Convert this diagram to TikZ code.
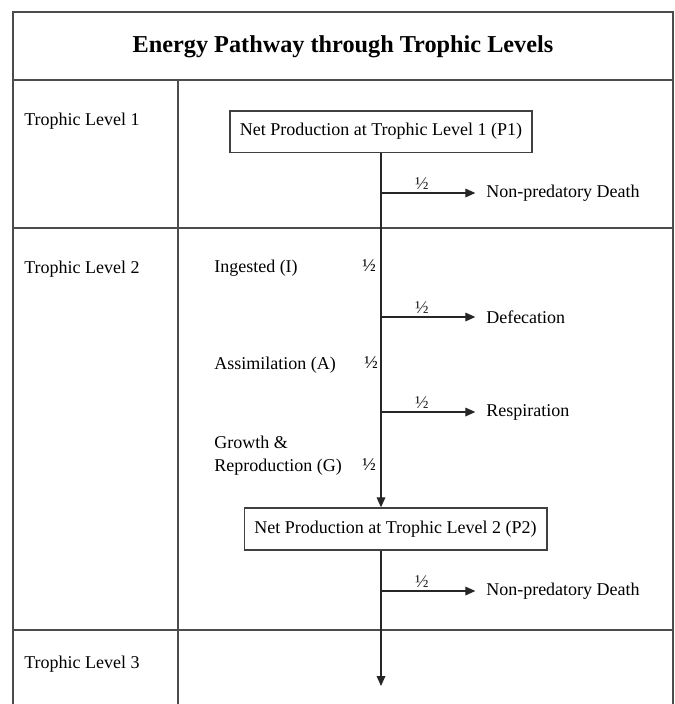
\documentclass[tikz,border=0pt]{standalone}
\usepackage{fontspec}
\setmainfont{Liberation Serif}
\usepackage{tikz}
\usetikzlibrary{arrows.meta,positioning}
\newcommand{\trophfont}{\fontsize{13.5}{16}\selectfont}
\tikzset{
  rule/.style={draw=black!70, line width=1.1pt},
  netbox/.style={draw=black!75, line width=1pt, minimum height=31pt, inner sep=0pt, font=\trophfont},
  flow/.style={-{Triangle[length=7.5pt,width=6.5pt]}, line width=0.9pt, black!85},
  rowlabel/.style={anchor=base west, inner sep=0pt, font=\trophfont},
  half/.style={inner sep=0pt, font=\trophfont},
  sink/.style={anchor=west, inner sep=0pt, font=\trophfont},
}

\begin{document}
\begin{tikzpicture}[x=0.75pt,y=-0.75pt]
  \useasboundingbox (0,0) rectangle (675,704);
  \draw[rule] (13,704) -- (13,12) -- (673,12) -- (673,704);
  \foreach \y in {80,228,630} \draw[rule] (13,\y) -- (673,\y);
  \draw[rule] (178,80) -- (178,704);

  \node[font=\fontsize{18.2}{22}\selectfont\bfseries] (title) at (343,47) {Energy Pathway through Trophic Levels};
  \node[rowlabel] (tl1) at (24,125) {Trophic Level 1};
  \node[rowlabel] (tl2) at (24,273) {Trophic Level 2};
  \node[rowlabel] (tl3) at (24,668) {Trophic Level 3};

  \node[netbox, minimum width=226.5pt] (p1) at (381,131.5) {Net Production at Trophic Level 1 (P1)};
  \node[netbox, minimum width=227pt, minimum height=31.5pt] (p2) at (395.5,529) {Net Production at Trophic Level 2 (P2)};

  \node[rowlabel] (ing) at (214,272) {Ingested (I)};
  \node[half] (hi) at (369,266) {½};
  \node[rowlabel] (ass) at (214,369) {Assimilation (A)};
  \node[half] (ha) at (371,363) {½};
  \node[rowlabel] (grw) at (214,448) {Growth \&};
  \node[rowlabel] (rep) at (214,471) {Reproduction (G)};
  \node[half] (hg) at (369,465) {½};

  \node[sink] (death1) at (486,193) {Non-predatory Death};
  \node[sink] (defec) at (486,317) {Defecation};
  \node[sink] (resp) at (486,412) {Respiration};
  \node[sink] (death2) at (486,591) {Non-predatory Death};

  \coordinate (b1) at (p1.south |- death1.west);
  \coordinate (b2) at (p1.south |- defec.west);
  \coordinate (b3) at (p1.south |- resp.west);
  \coordinate (b4) at (p1.south |- death2.west);
  \coordinate (end) at (381,686);

  \draw[flow] (p1.south) -- (p1.south |- p2.north);
  \draw[flow] (p1.south |- p2.south) -- (end);
  \draw[flow, shorten >=8pt] (b1) -- node[half, pos=.39, above=2pt] (h1) {½} (death1.west);
  \draw[flow, shorten >=8pt] (b2) -- node[half, pos=.39, above=2pt] (h2) {½} (defec.west);
  \draw[flow, shorten >=8pt] (b3) -- node[half, pos=.39, above=2pt] (h3) {½} (resp.west);
  \draw[flow, shorten >=8pt] (b4) -- node[half, pos=.39, above=2pt] (h4) {½} (death2.west);
\end{tikzpicture}
\end{document}
